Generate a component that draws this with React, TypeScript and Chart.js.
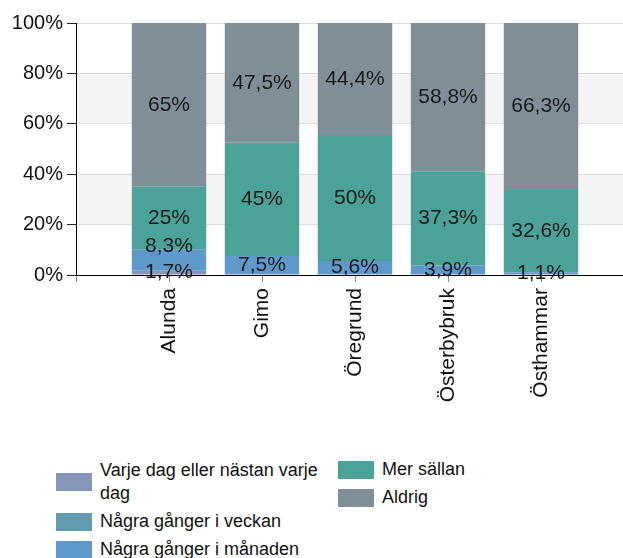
import React, { useEffect, useRef } from 'react';
import { Chart, registerables } from 'chart.js';

Chart.register(...registerables);

const categories = ['Alunda', 'Gimo', 'Öregrund', 'Österbybruk', 'Östhammar'];
const varjeDag = [1.7, 0, 0, 0, 0];
const veckan = [0, 0, 0, 0, 0];
const manaden = [8.3, 7.5, 5.6, 3.9, 1.1];
const merSallan = [25, 45, 50, 37.3, 32.6];
const aldrig = [65, 47.5, 44.4, 58.8, 66.3];
const yTickValues = [0, 20, 40, 60, 80, 100];
const seriesNames = [
  'Varje dag eller nästan varje dag',
  'Några gånger i veckan',
  'Några gånger i månaden',
  'Mer sällan',
  'Aldrig',
];
const seriesColors = ['#8796b8', '#629cae', '#5f99cb', '#4aa298', '#7f8e97'];
const seriesValues = [varjeDag, veckan, manaden, merSallan, aldrig];

const FONT = '"Liberation Sans", Arial, sans-serif';

const fmt = (v: number) => String(v).replace('.', ',') + '%';

const bandsPlugin = {
  id: 'bands',
  beforeDraw(chart: any) {
    const { ctx, chartArea, scales } = chart;
    const y = scales.y;
    ctx.save();
    ctx.fillStyle = '#f4f4f4';
    [[20, 40], [60, 80]].forEach(([a, b]) => {
      const top = y.getPixelForValue(b);
      const bot = y.getPixelForValue(a);
      ctx.fillRect(chartArea.left, top, chartArea.right - chartArea.left, bot - top);
    });
    ctx.restore();
  },
};

const labelsPlugin = {
  id: 'segLabels',
  afterDatasetsDraw(chart: any) {
    const { ctx } = chart;
    ctx.save();
    ctx.font = `21px ${FONT}`;
    ctx.fillStyle = '#1a1a1a';
    ctx.textAlign = 'center';
    ctx.textBaseline = 'middle';
    const n = chart.data.labels.length;
    for (let i = 0; i < n; i++) {
      let prev = Infinity;
      chart.data.datasets.forEach((ds: any, di: number) => {
        const v = ds.data[i];
        if (v == null || v === 0) return;
        const el = chart.getDatasetMeta(di).data[i];
        if (!el) return;
        let cy = (el.y + el.base) / 2;
        if (cy > prev - 26) cy = prev - 26;
        prev = cy;
        ctx.fillText(fmt(v), el.x, cy);
      });
    }
    ctx.restore();
  },
};

export default function App() {
  const ref = useRef<HTMLCanvasElement>(null);

  useEffect(() => {
    if (!ref.current) return;
    const labels = ['', ...categories, ''];
    const chart = new Chart(ref.current, {
      type: 'bar',
      data: {
        labels,
        datasets: seriesValues.map((vals, i) => ({
          label: seriesNames[i],
          data: [null, ...vals, null],
          backgroundColor: seriesColors[i],
          borderWidth: 0,
          barPercentage: 0.8,
          categoryPercentage: 1,
        })),
      },
      options: {
        responsive: false,
        animation: false,
        layout: { padding: { top: 23, left: 0, right: 0, bottom: 0 } },
        plugins: {
          legend: { display: false },
          tooltip: { enabled: false },
        },
        scales: {
          x: {
            stacked: true,
            offset: false,
            grid: {
              display: true,
              offset: false,
              drawOnChartArea: false,
              drawTicks: true,
              tickLength: 7,
              tickColor: '#888',
            },
            border: { color: '#000', width: 1 },
            ticks: {
              autoSkip: false,
              maxRotation: 90,
              minRotation: 90,
              padding: 6,
              color: '#111',
              font: { family: FONT, size: 21 },
            },
            afterFit(scale: any) {
              scale.height = 145;
              scale.paddingLeft = 0;
              scale.paddingRight = 0;
            },
          },
          y: {
            stacked: true,
            min: 0,
            max: 100,
            afterBuildTicks(scale: any) {
              scale.ticks = yTickValues.map((v) => ({ value: v }));
            },
            grid: {
              color: '#dcdcdc',
              tickColor: '#222',
              tickLength: 9,
            },
            border: { color: '#000', width: 1 },
            ticks: {
              padding: 4,
              color: '#111',
              font: { family: FONT, size: 20 },
              callback: (v: any) => v + '%',
            },
            afterFit(scale: any) {
              scale.width = 76;
              scale.paddingTop = 0;
              scale.paddingBottom = 0;
            },
          },
        },
      },
      plugins: [bandsPlugin, labelsPlugin],
    } as any);
    return () => chart.destroy();
  }, []);

  const item = (i: number, textWidth: number) => (
    <div key={i} style={{ display: 'flex', alignItems: 'center', marginBottom: 5 }}>
      <div
        style={{
          width: 36,
          height: 18,
          background: seriesColors[i],
          marginRight: 8,
          flexShrink: 0,
        }}
      />
      <div style={{ width: textWidth, lineHeight: '23px' }}>{seriesNames[i]}</div>
    </div>
  );

  return (
    <div
      style={{
        position: 'fixed',
        left: 0,
        top: 0,
        width: 623,
        height: 558,
        overflow: 'hidden',
        background: '#fff',
        fontFamily: FONT,
        fontSize: 18,
        color: '#111',
      }}
    >
      <canvas
        ref={ref}
        width={634}
        height={420}
        style={{ position: 'absolute', left: 0, top: 0, width: 634, height: 420 }}
      />
      <div style={{ position: 'absolute', left: 56, top: 459 }}>
        {item(0, 228)}
        {item(1, 228)}
        {item(2, 228)}
      </div>
      <div style={{ position: 'absolute', left: 338, top: 458 }}>
        {item(3, 200)}
        {item(4, 200)}
      </div>
    </div>
  );
}
